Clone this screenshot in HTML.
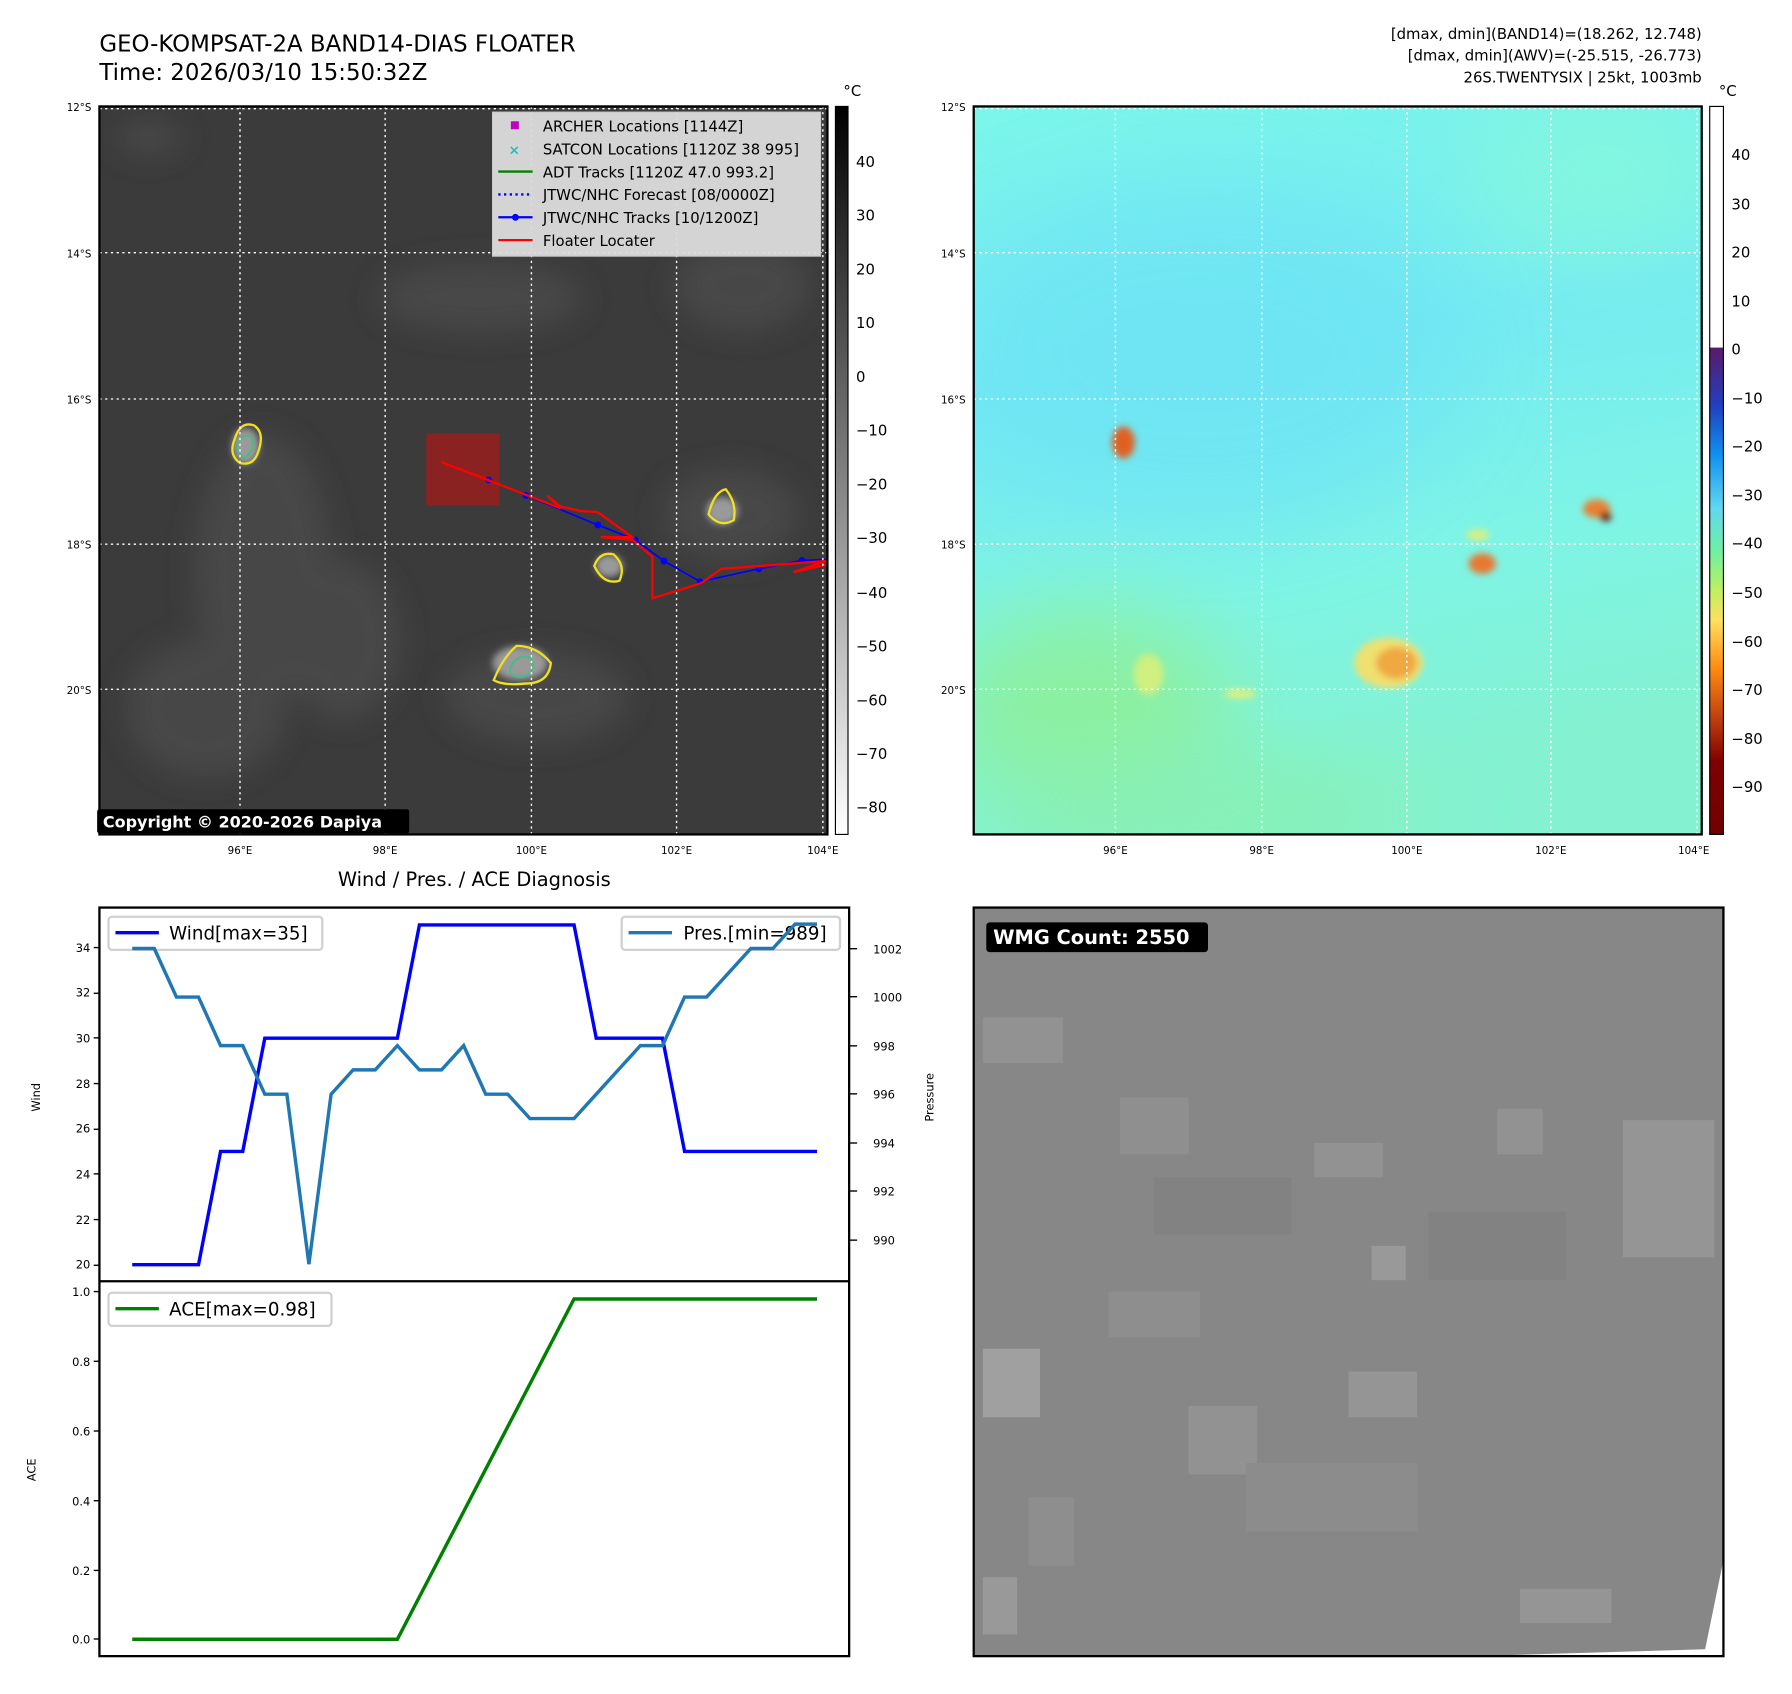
<!DOCTYPE html>
<html><head><meta charset="utf-8"><style>
html,body{margin:0;padding:0;background:#fff}
svg{display:block}
text{font-family:"DejaVu Sans","Liberation Sans",sans-serif}
</style></head><body>
<svg width="1792" height="1694" viewBox="0 0 1568 1482" xmlns="http://www.w3.org/2000/svg">
<defs>
<filter id="bl" x="-50%" y="-50%" width="200%" height="200%"><feGaussianBlur stdDeviation="12"/></filter>
<filter id="bl2" x="-50%" y="-50%" width="200%" height="200%"><feGaussianBlur stdDeviation="3"/></filter>
<filter id="bl3" x="-50%" y="-50%" width="200%" height="200%"><feGaussianBlur stdDeviation="40"/></filter>
<linearGradient id="cb1" x1="0" y1="0" x2="0" y2="1"><stop offset="0" stop-color="#000"/><stop offset="1" stop-color="#fff"/></linearGradient>
<linearGradient id="cb2" x1="0" y1="0" x2="0" y2="1">
<stop offset="0" stop-color="#5a1a6a"/><stop offset="0.12" stop-color="#2040c0"/><stop offset="0.22" stop-color="#1090f0"/>
<stop offset="0.33" stop-color="#60d8f0"/><stop offset="0.42" stop-color="#70f0a0"/><stop offset="0.5" stop-color="#c0f060"/>
<stop offset="0.56" stop-color="#ffe060"/><stop offset="0.66" stop-color="#ff8a10"/><stop offset="0.76" stop-color="#c04010"/>
<stop offset="0.85" stop-color="#800000"/><stop offset="1" stop-color="#700000"/></linearGradient>
<linearGradient id="m2" x1="0" y1="0" x2="0.2" y2="1"><stop offset="0" stop-color="#7cf6ea"/><stop offset="0.4" stop-color="#74eaf2"/><stop offset="0.7" stop-color="#7ef4e6"/><stop offset="1" stop-color="#84f2d0"/></linearGradient>
</defs>

<text x="87" y="45" font-size="20">GEO-KOMPSAT-2A BAND14-DIAS FLOATER</text>
<text x="87" y="70" font-size="20">Time: 2026/03/10 15:50:32Z</text>
<g font-size="13" text-anchor="end">
<text x="1489" y="34">[dmax, dmin](BAND14)=(18.262, 12.748)</text>
<text x="1489" y="53">[dmax, dmin](AWV)=(-25.515, -26.773)</text>
<text x="1489" y="72">26S.TWENTYSIX | 25kt, 1003mb</text>
</g>

<!-- MAP 1 -->
<clipPath id="c1"><rect x="87" y="93" width="637" height="637"/></clipPath>
<rect x="87" y="93" width="637" height="637" fill="#3b3b3b"/>
<g clip-path="url(#c1)">
<g filter="url(#bl)" fill="#4c4c4c" opacity="0.8">
<ellipse cx="230" cy="500" rx="60" ry="120"/><ellipse cx="180" cy="620" rx="70" ry="60"/>
<ellipse cx="470" cy="610" rx="80" ry="40"/><ellipse cx="300" cy="560" rx="50" ry="70"/>
<ellipse cx="640" cy="450" rx="60" ry="40"/><ellipse cx="650" cy="250" rx="60" ry="40"/>
<ellipse cx="130" cy="120" rx="30" ry="15"/><ellipse cx="420" cy="260" rx="90" ry="30"/>
</g>
<g filter="url(#bl2)" fill="#9a9a9a">
<ellipse cx="215" cy="390" rx="12" ry="16"/><ellipse cx="632" cy="447" rx="14" ry="12"/>
<ellipse cx="533" cy="495" rx="12" ry="10"/><ellipse cx="455" cy="580" rx="24" ry="15"/>
</g>
<g fill="none" stroke="#f0e020" stroke-width="2">
<path d="M205,385 Q210,368 222,372 Q232,378 226,395 Q222,408 210,405 Q200,398 205,385Z"/>
<path d="M620,450 Q625,430 635,428 Q645,440 642,455 Q630,462 620,450Z"/>
<path d="M520,495 Q525,482 537,485 Q548,495 542,508 Q528,512 520,495Z"/>
<path d="M432,595 Q440,575 452,565 Q470,565 482,580 Q480,598 460,598 Q440,600 432,595Z"/>
</g>
<g fill="none" stroke="#40c080" stroke-width="1.5">
<path d="M208,388 Q214,378 220,382 Q224,394 214,400 Q206,396 208,388Z"/>
<path d="M446,585 Q452,572 464,575 Q470,588 458,592 Q448,594 446,585Z"/>
</g>
<rect x="373" y="379" width="64" height="63" fill="#8b2222"/>
<polyline fill="none" stroke="#00f" stroke-width="1.5" points="427.5,419.8 460.2,433.4 523.1,459.2 555.8,472.3 581,490.8 612.6,508.8 664,497.6 701.7,490.3 724,489.3"/>
<g fill="#00f"><circle cx="427.5" cy="419.8" r="3"/><circle cx="460.2" cy="433.4" r="3"/><circle cx="523.1" cy="459.2" r="3"/><circle cx="555.8" cy="472.3" r="3"/><circle cx="581" cy="490.8" r="3"/><circle cx="612.6" cy="508.8" r="3"/><circle cx="664" cy="497.6" r="3"/><circle cx="701.7" cy="490.3" r="3"/></g>
<polyline fill="none" stroke="#f00" stroke-width="2" points="386.3,404.2 490.4,444.6 478.8,433.4 490.4,443.1 508,447 523,448 553.3,469.9 525.6,469.9 553.3,472.3 570.9,486.9 570.9,523.4 613.6,510.2 631.2,497.6 722.8,490.8 694.1,500.5 722.8,494.2"/>
</g>
<g stroke="#fff" stroke-width="1.2" stroke-dasharray="2,3" fill="none">
<line x1="210" y1="93" x2="210" y2="730"/><line x1="337" y1="93" x2="337" y2="730"/><line x1="465" y1="93" x2="465" y2="730"/><line x1="592" y1="93" x2="592" y2="730"/><line x1="720" y1="93" x2="720" y2="730"/>
<line x1="87" y1="95" x2="724" y2="95"/><line x1="87" y1="221" x2="724" y2="221"/><line x1="87" y1="349" x2="724" y2="349"/><line x1="87" y1="476" x2="724" y2="476"/><line x1="87" y1="603" x2="724" y2="603"/>
</g>
<rect x="87" y="93" width="637" height="637" fill="none" stroke="#000" stroke-width="2"/>
<rect x="431" y="98" width="287" height="126" fill="#dcdcdc" fill-opacity="0.95" stroke="#ccc"/>
<g font-size="13">
<rect x="447" y="106" width="7" height="7" fill="#c000c0"/><text x="475" y="115">ARCHER Locations [1144Z]</text>
<text x="450" y="135" font-size="12" fill="#20c0c0" text-anchor="middle" font-weight="bold">×</text><text x="475" y="135">SATCON Locations [1120Z 38 995]</text>
<line x1="436" y1="150" x2="466" y2="150" stroke="#008000" stroke-width="2"/><text x="475" y="155">ADT Tracks [1120Z 47.0 993.2]</text>
<line x1="436" y1="170" x2="466" y2="170" stroke="#00f" stroke-width="2" stroke-dasharray="2,3"/><text x="475" y="175">JTWC/NHC Forecast [08/0000Z]</text>
<line x1="436" y1="190" x2="466" y2="190" stroke="#00f" stroke-width="2"/><circle cx="451" cy="190" r="3" fill="#00f"/><text x="475" y="195">JTWC/NHC Tracks [10/1200Z]</text>
<line x1="436" y1="210" x2="466" y2="210" stroke="#f00" stroke-width="2"/><text x="475" y="215">Floater Locater</text>
</g>
<rect x="85" y="708" width="273" height="21" rx="2" fill="#000"/>
<text x="90" y="724" font-size="14" font-weight="bold" fill="#fff">Copyright © 2020-2026 Dapiya</text>
<g font-size="9" text-anchor="end"><text x="80" y="97">12°S</text><text x="80" y="225">14°S</text><text x="80" y="353">16°S</text><text x="80" y="480">18°S</text><text x="80" y="607">20°S</text></g>
<g font-size="9" text-anchor="middle"><text x="210" y="747">96°E</text><text x="337" y="747">98°E</text><text x="465" y="747">100°E</text><text x="592" y="747">102°E</text><text x="720" y="747">104°E</text></g>
<rect x="731" y="93" width="11" height="637" fill="url(#cb1)" stroke="#000"/>
<text x="738" y="84" font-size="13">°C</text>
<g font-size="13"><text x="749" y="146">40</text><text x="749" y="193">30</text><text x="749" y="240">20</text><text x="749" y="287">10</text><text x="749" y="334">0</text><text x="749" y="381">−10</text><text x="749" y="428">−20</text><text x="749" y="475">−30</text><text x="749" y="523">−40</text><text x="749" y="570">−50</text><text x="749" y="617">−60</text><text x="749" y="664">−70</text><text x="749" y="711">−80</text></g>

<!-- MAP 2 -->
<clipPath id="c2"><rect x="852" y="93" width="637" height="637"/></clipPath>
<rect x="852" y="93" width="637" height="637" fill="url(#m2)"/>
<g clip-path="url(#c2)">
<ellipse cx="1050" cy="310" rx="230" ry="150" fill="#6ee4f4" filter="url(#bl3)" opacity="0.8"/>
<ellipse cx="1400" cy="150" rx="120" ry="80" fill="#82f6e0" filter="url(#bl3)"/>
<ellipse cx="950" cy="620" rx="130" ry="90" fill="#8cf0a0" filter="url(#bl3)"/>
<ellipse cx="1060" cy="710" rx="180" ry="40" fill="#88f0b0" filter="url(#bl3)"/>
<g filter="url(#bl2)">
<ellipse cx="1215" cy="580" rx="30" ry="22" fill="#f0e070"/><ellipse cx="1222" cy="580" rx="18" ry="14" fill="#f0a840"/>
<ellipse cx="983" cy="387" rx="10" ry="14" fill="#e06020"/>
<ellipse cx="1297" cy="493" rx="12" ry="9" fill="#e87830"/><ellipse cx="1293" cy="468" rx="10" ry="5" fill="#d8f080"/>
<ellipse cx="1397" cy="445" rx="12" ry="8" fill="#e88030"/><ellipse cx="1405" cy="452" rx="5" ry="4" fill="#700800"/>
<ellipse cx="1005" cy="590" rx="13" ry="18" fill="#d0f080"/><ellipse cx="1085" cy="607" rx="14" ry="4" fill="#e0f080"/>
</g>
</g>
<g stroke="#fff" stroke-width="1.2" stroke-dasharray="2,3" fill="none">
<line x1="976" y1="93" x2="976" y2="730"/><line x1="1104" y1="93" x2="1104" y2="730"/><line x1="1231" y1="93" x2="1231" y2="730"/><line x1="1357" y1="93" x2="1357" y2="730"/><line x1="1485" y1="93" x2="1485" y2="730"/>
<line x1="852" y1="95" x2="1489" y2="95"/><line x1="852" y1="221" x2="1489" y2="221"/><line x1="852" y1="349" x2="1489" y2="349"/><line x1="852" y1="476" x2="1489" y2="476"/><line x1="852" y1="603" x2="1489" y2="603"/>
</g>
<rect x="852" y="93" width="637" height="637" fill="none" stroke="#000" stroke-width="2"/>
<g font-size="9" text-anchor="end"><text x="845" y="97">12°S</text><text x="845" y="225">14°S</text><text x="845" y="353">16°S</text><text x="845" y="480">18°S</text><text x="845" y="607">20°S</text></g>
<g font-size="9" text-anchor="middle"><text x="976" y="747">96°E</text><text x="1104" y="747">98°E</text><text x="1231" y="747">100°E</text><text x="1357" y="747">102°E</text><text x="1482" y="747">104°E</text></g>
<rect x="1496" y="93" width="12" height="211" fill="#fff"/>
<rect x="1496" y="304" width="12" height="426" fill="url(#cb2)"/>
<rect x="1496" y="93" width="12" height="637" fill="none" stroke="#000"/>
<text x="1504" y="84" font-size="13">°C</text>
<g font-size="13"><text x="1515" y="140">40</text><text x="1515" y="183">30</text><text x="1515" y="225">20</text><text x="1515" y="268">10</text><text x="1515" y="310">0</text><text x="1515" y="353">−10</text><text x="1515" y="395">−20</text><text x="1515" y="438">−30</text><text x="1515" y="480">−40</text><text x="1515" y="523">−50</text><text x="1515" y="566">−60</text><text x="1515" y="608">−70</text><text x="1515" y="651">−80</text><text x="1515" y="693">−90</text></g>

<!-- DIAGNOSIS -->
<text x="415" y="775" font-size="17" text-anchor="middle">Wind / Pres. / ACE Diagnosis</text>
<rect x="87" y="794" width="656" height="655" fill="#fff" stroke="#000" stroke-width="2"/>
<line x1="87" y1="1121" x2="743" y2="1121" stroke="#000" stroke-width="2"/>
<g font-size="10" text-anchor="end">
<text x="79" y="833">34</text><text x="79" y="872">32</text><text x="79" y="912">30</text><text x="79" y="952">28</text><text x="79" y="991">26</text><text x="79" y="1031">24</text><text x="79" y="1071">22</text><text x="79" y="1110">20</text>
<text x="79" y="1134">1.0</text><text x="79" y="1195">0.8</text><text x="79" y="1256">0.6</text><text x="79" y="1317">0.4</text><text x="79" y="1378">0.2</text><text x="79" y="1438">0.0</text>
</g>
<g stroke="#000" stroke-width="1.2">
<line x1="82" y1="829" x2="87" y2="829"/><line x1="82" y1="869" x2="87" y2="869"/><line x1="82" y1="908" x2="87" y2="908"/><line x1="82" y1="948" x2="87" y2="948"/><line x1="82" y1="988" x2="87" y2="988"/><line x1="82" y1="1027" x2="87" y2="1027"/><line x1="82" y1="1067" x2="87" y2="1067"/><line x1="82" y1="1107" x2="87" y2="1107"/>
<line x1="82" y1="1130" x2="87" y2="1130"/><line x1="82" y1="1191" x2="87" y2="1191"/><line x1="82" y1="1252" x2="87" y2="1252"/><line x1="82" y1="1313" x2="87" y2="1313"/><line x1="82" y1="1374" x2="87" y2="1374"/><line x1="82" y1="1434" x2="87" y2="1434"/>
<line x1="743" y1="830" x2="750" y2="830"/><line x1="743" y1="872" x2="750" y2="872"/><line x1="743" y1="915" x2="750" y2="915"/><line x1="743" y1="957" x2="750" y2="957"/><line x1="743" y1="1000" x2="750" y2="1000"/><line x1="743" y1="1042" x2="750" y2="1042"/><line x1="743" y1="1085" x2="750" y2="1085"/>
</g>
<g font-size="10"><text x="764" y="834">1002</text><text x="764" y="876">1000</text><text x="764" y="919">998</text><text x="764" y="961">996</text><text x="764" y="1004">994</text><text x="764" y="1046">992</text><text x="764" y="1089">990</text></g>
<text transform="translate(35,960) rotate(-90)" font-size="10" text-anchor="middle">Wind</text>
<text transform="translate(817,960) rotate(-90)" font-size="10" text-anchor="middle">Pressure</text>
<text transform="translate(31,1286) rotate(-90)" font-size="10" text-anchor="middle">ACE</text>
<!-- wind legend first (drawn under pressure line) -->
<rect x="95" y="802" width="187" height="29" rx="3" fill="#fff" stroke="#d0d0d0" stroke-width="2"/>
<line x1="101" y1="816" x2="139" y2="816" stroke="#00f" stroke-width="3"/><text x="148" y="822" font-size="16">Wind[max=35]</text>
<!-- wind -->
<polyline fill="none" stroke="#00f" stroke-width="3" points="115.7,1106.5 173.7,1106.5 193,1007.4 212.4,1007.4 231.7,908.3 347.7,908.3 367,809.2 502.3,809.2 521.7,908.3 579.7,908.3 599,1007.4 714.9,1007.4"/>
<rect x="544" y="802" width="191" height="29" rx="3" fill="#fff" stroke="#d0d0d0" stroke-width="2"/>
<line x1="550" y1="816" x2="588" y2="816" stroke="#1f77b4" stroke-width="3"/><text x="598" y="822" font-size="16">Pres.[min=989]</text>
<!-- pressure -->
<polyline fill="none" stroke="#1f77b4" stroke-width="3" points="115.7,829.8 135,829.8 154.4,872.3 173.7,872.3 193,914.8 212.4,914.8 231.7,957.3 251,957.3 270.3,1106 289.7,957.3 309,936 328.3,936 347.7,914.8 367,936 386.3,936 405.7,914.8 425,957.3 444.3,957.3 463.7,978.6 483,978.6 502.3,978.6 521.7,957.3 541,936 560.3,914.8 579.7,914.8 599,872.3 618.3,872.3 637.7,851 657,829.8 676.3,829.8 695.7,808.5 714.9,808.5"/>
<polyline fill="none" stroke="#008000" stroke-width="3" points="115.7,1434.2 347.7,1434.2 502.3,1136.5 714.9,1136.5"/>
<rect x="95" y="1131" width="195" height="29" rx="3" fill="#fff" stroke="#d0d0d0" stroke-width="2"/>
<line x1="101" y1="1145" x2="139" y2="1145" stroke="#008000" stroke-width="3"/><text x="148" y="1151" font-size="16">ACE[max=0.98]</text>

<!-- WMG -->
<clipPath id="c3"><rect x="852" y="794" width="656" height="655"/></clipPath>
<rect x="852" y="794" width="656" height="655" fill="#878787"/>
<g clip-path="url(#c3)" fill="#929292">
<rect x="860" y="890" width="70" height="40"/><rect x="980" y="960" width="60" height="50" fill="#8f8f8f"/>
<rect x="1150" y="1000" width="60" height="30"/><rect x="1310" y="970" width="40" height="40"/>
<rect x="1420" y="980" width="80" height="120" fill="#959595"/><rect x="860" y="1180" width="50" height="60" fill="#a0a0a0"/>
<rect x="1040" y="1230" width="60" height="60"/><rect x="1180" y="1200" width="60" height="40" fill="#959595"/>
<rect x="860" y="1380" width="30" height="50" fill="#999"/><rect x="1330" y="1390" width="80" height="30" fill="#959595"/>
<rect x="1200" y="1090" width="30" height="30" fill="#999"/><rect x="900" y="1310" width="40" height="60" fill="#8e8e8e"/>
<rect x="970" y="1130" width="80" height="40" fill="#8e8e8e"/><rect x="1090" y="1280" width="150" height="60" fill="#8c8c8c"/>
<rect x="1010" y="1030" width="120" height="50" fill="#828282"/><rect x="1250" y="1060" width="120" height="60" fill="#828282"/>
</g>
<polygon points="1508,1365 1508,1449 1290,1449 1492,1443" fill="#fff"/>
<rect x="852" y="794" width="656" height="655" fill="none" stroke="#000" stroke-width="2"/>
<rect x="863" y="807" width="194" height="26" rx="3" fill="#000"/>
<text x="869" y="826" font-size="17" font-weight="bold" fill="#fff">WMG Count: 2550</text>
</svg>
</body></html>
